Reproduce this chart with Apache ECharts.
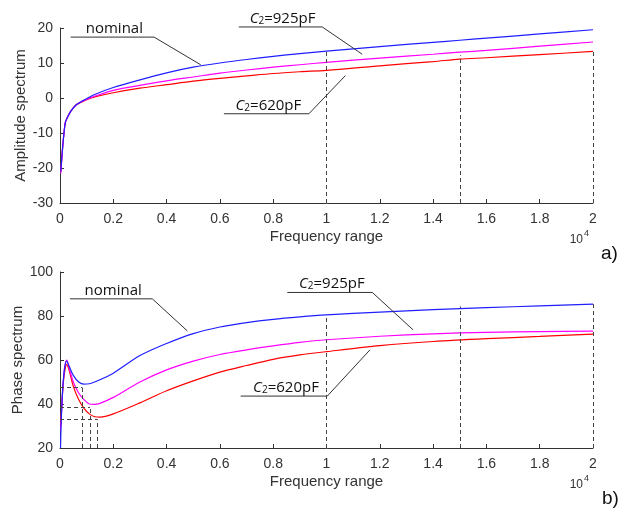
<!DOCTYPE html>
<html>
<head>
<meta charset="utf-8">
<script src="https://cdn.jsdelivr.net/npm/echarts@6/dist/echarts.min.js"></script>
<style>
  html, body { margin: 0; padding: 0; background: #fff; }
  #chart { width: 618px; height: 513px; }
</style>
</head>
<body>
<div id="chart"></div>
<script>
// a) amplitude spectrum (frequency in units of 10^4)
var freqAmp = [0.003, 0.006, 0.01, 0.015, 0.02, 0.03, 0.04, 0.06, 0.08, 0.1, 0.13, 0.2, 0.3, 0.4, 0.5, 0.6, 0.7, 0.8, 0.9, 1.0, 1.2, 1.4, 1.5, 1.6, 1.8, 2.0]
var ampNominal = [-21, -18, -14, -10, -7, -5.2, -3.8, -2.0, -1.0, -0.2, 1.0, 3.0, 5.2, 7.2, 8.8, 10.0, 11.0, 11.9, 12.7, 13.4, 14.7, 15.9, 16.5, 17.1, 18.3, 19.5]
var amp925 = [-21.5, -18, -14, -10, -7, -5.2, -3.8, -2.0, -1.1, -0.4, 0.5, 2.2, 3.6, 4.9, 6.0, 7.1, 8.0, 8.8, 9.5, 10.2, 11.4, 12.5, 13.1, 13.6, 14.8, 16.0]
var amp620 = [-21, -18, -14, -10, -7, -5.2, -3.8, -2.0, -1.2, -0.5, 0.3, 1.5, 2.8, 3.8, 4.8, 5.6, 6.3, 7.0, 7.5, 7.9, 9.2, 10.4, 11.1, 11.5, 12.4, 13.3]

// b) phase spectrum
var freqPhase = [0.002, 0.004, 0.008, 0.012, 0.018, 0.025, 0.035, 0.05, 0.07, 0.09, 0.11, 0.13, 0.15, 0.2, 0.3, 0.4, 0.5, 0.6, 0.7, 0.8, 0.9, 1.0, 1.2, 1.4, 1.6, 1.8, 2.0]
var phaseNominal = [20, 30, 42, 50, 57, 59.5, 57, 53, 50, 49, 49.2, 50, 51, 54, 62, 67.5, 72, 75, 77, 78.5, 79.6, 80.5, 81.8, 82.9, 83.8, 84.6, 85.4]
var phase925 = [28, 32, 42, 50, 57, 60, 56, 50, 45, 42, 40, 39.8, 40.3, 43, 50, 55.5, 59.5, 62.5, 64.6, 66.4, 68, 69.2, 70.8, 71.9, 72.6, 72.9, 73.1]
var phase620 = [30, 34, 42, 49, 55, 58, 55, 48, 42, 38, 35.5, 34.2, 34, 35.5, 40.5, 46, 50.5, 54.5, 57.5, 60.3, 62.3, 63.8, 66.5, 68.4, 69.7, 70.7, 71.8]

var seriesNames = ['nominal', 'C2=925pF', 'C2=620pF']
var seriesColors = ['#1f1fff', '#ff00ff', '#ff0000']

// dashed read-off lines on the phase plot: [x of minimum, phase at minimum]
var phaseMinX = [0.084, 0.1125, 0.14]
var phaseMinY = [47.8, 38.7, 33.1]
// dashed verticals at 1, 1.5, 2 (x10^4), up to the curve
var markX = [1, 1.5, 2]
var ampMarkTop = [13.4, 12.2, 13.3]
var phaseMarkTop = [80.5, 84.3, 85.4]

// leader lines for the labels, in data coordinates
var notesAmp = [
  {text: 'nominal', pts: [[0.040, 17.4], [0.353, 17.4], [0.528, 9.5]]},
  {text: '{c|C}{s|2}=925pF', pts: [[0.671, 20.3], [0.984, 20.3], [1.134, 12.5]]},
  {text: '{c|C}{s|2}=620pF', pts: [[0.615, -4.5], [0.934, -4.5], [1.071, 6.4]]}
]
var notesPhase = [
  {text: 'nominal', pts: [[0.0375, 87.8], [0.3465, 87.8], [0.478, 73.2]]},
  {text: '{c|C}{s|2}=925pF', pts: [[0.853, 90.7], [1.172, 90.7], [1.325, 73.7]]},
  {text: '{c|C}{s|2}=620pF', pts: [[0.678, 43.6], [1.003, 43.6], [1.163, 64.6]]}
]

function pairs(xs, ys) {
  return xs.map(function (x, i) { return [x, ys[i]] })
}

var font = 'Liberation Sans, Arial, sans-serif'
var dashStyle = {color: '#444', type: [4, 3], width: 1}

function makeX(i) {
  return {
    type: 'value', gridIndex: i, min: 0, max: 2, interval: 0.2,
    name: 'Frequency range', nameLocation: 'middle', nameGap: 26, nameMoveOverlap: false,
    nameTextStyle: {fontSize: 15, color: '#333', fontFamily: font},
    axisLine: {onZero: false, lineStyle: {color: '#333', width: 1}},
    axisTick: {inside: true, length: 4, lineStyle: {color: '#333'}},
    axisLabel: {fontSize: 14, color: '#333', margin: 9, fontFamily: font},
    splitLine: {show: false}
  }
}

function makeY(i, min, max, step, name, gap) {
  return {
    type: 'value', gridIndex: i, min: min, max: max, interval: step,
    name: name, nameLocation: 'middle', nameGap: gap, nameMoveOverlap: false,
    nameTextStyle: {fontSize: 15, color: '#333', fontFamily: font},
    axisLine: {show: true, onZero: false, lineStyle: {color: '#333', width: 1}},
    axisTick: {show: true, inside: true, length: 4, lineStyle: {color: '#333'}},
    axisLabel: {fontSize: 14, color: '#333', margin: 7, fontFamily: font},
    splitLine: {show: false}
  }
}

function vLines(top, y0) {
  return markX.map(function (x, i) { return [{coord: [x, y0]}, {coord: [x, top[i]]}] })
}

var phaseGuides = []
phaseMinX.forEach(function (x, i) {
  phaseGuides.push([{coord: [0, phaseMinY[i]]}, {coord: [x, phaseMinY[i]]}])
  phaseGuides.push([{coord: [x, 20]}, {coord: [x, phaseMinY[i]]}])
})

var ampData = [ampNominal, amp925, amp620]
var phaseData = [phaseNominal, phase925, phase620]
var series = []
ampData.forEach(function (ys, k) {
  series.push({
    name: seriesNames[k], type: 'line', xAxisIndex: 0, yAxisIndex: 0,
    data: pairs(freqAmp, ys), showSymbol: false, smooth: 0.3, silent: true,
    lineStyle: {color: seriesColors[k], width: 1.2}, z: 3 - k,
    markLine: k === 0 ? {symbol: 'none', silent: true, label: {show: false},
      lineStyle: dashStyle, data: vLines(ampMarkTop, -30)} : undefined
  })
})
phaseData.forEach(function (ys, k) {
  series.push({
    name: seriesNames[k], type: 'line', xAxisIndex: 1, yAxisIndex: 1,
    data: pairs(freqPhase, ys), showSymbol: false, smooth: 0.3, silent: true,
    lineStyle: {color: seriesColors[k], width: 1.2}, z: 3 - k,
    markLine: k === 0 ? {symbol: 'none', silent: true, label: {show: false},
      lineStyle: dashStyle, data: vLines(phaseMarkTop, 20).concat(phaseGuides)} : undefined
  })
})

var chart = echarts.init(document.getElementById('chart'))
chart.setOption({
  animation: false,
  backgroundColor: '#fff',
  grid: [
    {left: 60, right: 25, top: 28, height: 175, outerBoundsMode: 'none'},
    {left: 60, right: 25, top: 272, height: 176, outerBoundsMode: 'none'}
  ],
  xAxis: [makeX(0), makeX(1)],
  yAxis: [
    makeY(0, -30, 20, 10, 'Amplitude spectrum', 32),
    makeY(1, 20, 100, 20, 'Phase spectrum', 35)
  ],
  series: series
})

// labels with leader lines, placed through the axes' scales
var graphics = []
function addNotes(notes, gridIndex) {
  notes.forEach(function (n) {
    var p = n.pts.map(function (d) { return chart.convertToPixel({gridIndex: gridIndex}, d) })
    graphics.push({type: 'polyline', shape: {points: p}, style: {stroke: '#333', lineWidth: 1, fill: null}, z: 10})
    graphics.push({
      type: 'text', x: (p[0][0] + p[1][0]) / 2 + 2, y: p[0][1] - 1, z: 10,
      style: {
        text: n.text, fill: '#111', fontSize: 15, fontFamily: 'Open Sans, sans-serif',
        align: 'center', verticalAlign: 'bottom',
        rich: {
          c: {fontStyle: 'italic', fontSize: 15, fontFamily: 'Open Sans, sans-serif'},
          s: {fontSize: 10, padding: [5, 0, 0, 0], fontFamily: 'Open Sans, sans-serif'}
        }
      }
    })
  })
}
addNotes(notesAmp, 0)
addNotes(notesPhase, 1)

// axis multiplier and panel letters
var cornerA = chart.convertToPixel({gridIndex: 0}, [2, -30])
var cornerB = chart.convertToPixel({gridIndex: 1}, [2, 20])
;[cornerA, cornerB].forEach(function (c, i) {
  graphics.push({type: 'text', x: c[0] - 10, y: c[1] + 37, style: {text: '10', fontSize: 12, fontFamily: font, fill: '#333', align: 'right', verticalAlign: 'middle'}})
  graphics.push({type: 'text', x: c[0] - 9, y: c[1] + 31, style: {text: '4', fontSize: 9, fontFamily: font, fill: '#333', align: 'left', verticalAlign: 'middle'}})
  graphics.push({type: 'text', x: 601 + i, y: c[1] + 51, style: {text: i === 0 ? 'a)' : 'b)', fontSize: 19, fontFamily: font, fill: '#111', align: 'left', verticalAlign: 'middle'}})
})
chart.setOption({graphic: graphics})
</script>
</body>
</html>
